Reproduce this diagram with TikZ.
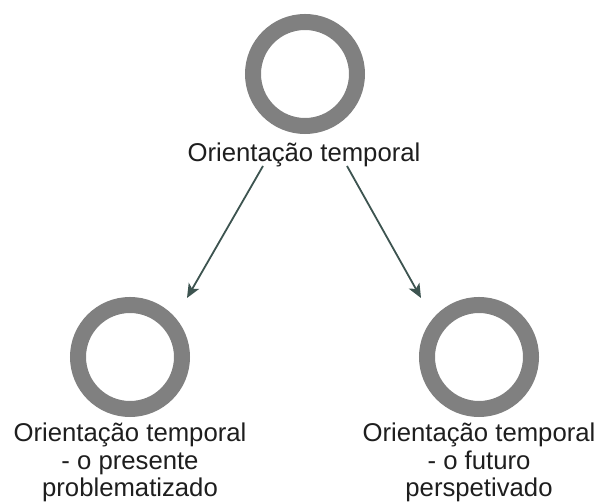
\documentclass[tikz,border=0pt]{standalone}
\usepackage{fontspec}
\setmainfont{Liberation Sans}
\usetikzlibrary{arrows.meta}
\definecolor{ringgray}{HTML}{808080}
\definecolor{arrowgreen}{HTML}{3D5450}
\definecolor{labeltext}{HTML}{1E1E1E}
\begin{document}
\begin{tikzpicture}[x=1pt,y=-1pt,
  ring/.style={circle,draw=ringgray,line width=16pt,minimum size=104pt,inner sep=0pt},
  caption/.style={anchor=base,align=center,inner sep=0pt,text=labeltext,
    font=\fontsize{25.7}{27.5}\selectfont},
  link/.style={draw=arrowgreen,line width=1.8pt,
    -{Stealth[length=14pt,width=12pt,inset=3.5pt]}}]
  \useasboundingbox[fill=white] (0,0) rectangle (598,502);

  % three circles
  \node[ring] (top)   at (305,74)  {};
  \node[ring] (left)  at (130,357) {};
  \node[ring] (right) at (479,357) {};

  % their captions (base anchor sits on the last line)
  \node[caption] (toplabel)   at (304,162) {Orientação temporal};
  \node[caption] (leftlabel)  at (130,497) {Orientação temporal\\- o presente\\problematizado};
  \node[caption] (rightlabel) at (479,497) {Orientação temporal\\- o futuro\\perspetivado};

  % arrow ends
  \coordinate (lstart) at (263,166);
  \coordinate (lend)   at (187,298);
  \coordinate (rstart) at (347,166);
  \coordinate (rend)   at (421,298);

  \draw[link] (lstart) -- (lend);
  \draw[link] (rstart) -- (rend);
\end{tikzpicture}
\end{document}
